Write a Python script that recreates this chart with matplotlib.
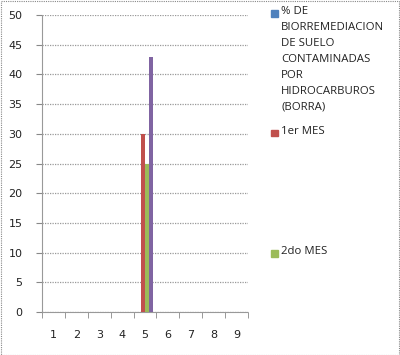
import matplotlib
matplotlib.use("Agg")
import matplotlib.pyplot as plt
import numpy as np
from matplotlib.patches import Rectangle

categories = ["1", "2", "3", "4", "5", "6", "7", "8", "9"]
series_names = ["% DE\nBIORREMEDIACION\nDE SUELO\nCONTAMINADAS\nPOR\nHIDROCARBUROS\n(BORRA)",
                "1er MES", "2do MES", ""]
s_borra = [0, 0, 0, 0, 0, 0, 0, 0, 0]
s_mes1 = [0, 0, 0, 0, 30, 0, 0, 0, 0]
s_mes2 = [0, 0, 0, 0, 25, 0, 0, 0, 0]
s_mes3 = [0, 0, 0, 0, 43, 0, 0, 0, 0]
series = [s_borra, s_mes1, s_mes2, s_mes3]
colors = ["#4F81BD", "#C0504D", "#9BBB59", "#8064A2"]
yticks = list(range(0, 51, 5))

W, H = 400, 355
fig = plt.figure(figsize=(W / 100, H / 100), dpi=100)
fig.patch.set_facecolor("white")

L, R, T, B = 42, 248, 15, 312
ax = fig.add_axes([L / W, 1 - B / H, (R - L) / W, (B - T) / H])

n = len(series)
bw = 1 / (n + 1.5)
x = np.arange(len(categories))
for i, (vals, c) in enumerate(zip(series, colors)):
    offs = (i - (n - 1) / 2) * bw
    ax.bar(x + offs, vals, width=bw, color=c, edgecolor="none", zorder=3)

ax.set_xlim(-0.5, len(categories) - 0.5)
ax.set_ylim(0, 50)
ax.set_yticks(yticks)
ax.set_yticklabels([str(v) for v in yticks], fontsize=8, color="#222222", family="DejaVu Sans")
ax.set_xticks(x)
ax.set_xticklabels(categories, fontsize=8, color="#222222", family="DejaVu Sans")
ax.set_xticks(np.arange(-0.5, len(categories)), minor=True)
ax.tick_params(axis="x", which="major", length=0, pad=13)
ax.tick_params(axis="x", which="minor", length=4, color="#888888", direction="out")
ax.tick_params(axis="y", which="major", length=4, color="#888888", pad=10)
ax.grid(axis="y", color="#999999", linestyle=(0, (1, 1)), linewidth=0.9, zorder=0)
for s in ["top", "right"]:
    ax.spines[s].set_visible(False)
ax.spines["left"].set_color("#999999")
ax.spines["left"].set_linestyle((0, (1, 1)))
ax.spines["bottom"].set_color("#999999")
ax.spines["bottom"].set_linestyle((0, (1, 1)))

# legend
leg_y = [13, 133, 253]
for name, c, yy in zip(series_names[:3], colors[:3], leg_y):
    fig.patches.append(Rectangle((271 / W, 1 - (yy + 3.5) / H), 6.5 / W, 6.5 / H,
                                 transform=fig.transFigure, color=c))
    fig.text(281 / W, 1 - (yy - 7) / H, name, fontsize=8.2, va="top", ha="left",
             family="Open Sans", color="#222222", linespacing=1.62)

# outer border
fig.patches.append(Rectangle((0.5 / W, 0.5 / H), (W - 1.5) / W, (H - 1.5) / H,
                             transform=fig.transFigure, fill=False,
                             edgecolor="#888888", linestyle=(0, (1, 1)), linewidth=0.8))

fig.savefig("out.png", dpi=100)
